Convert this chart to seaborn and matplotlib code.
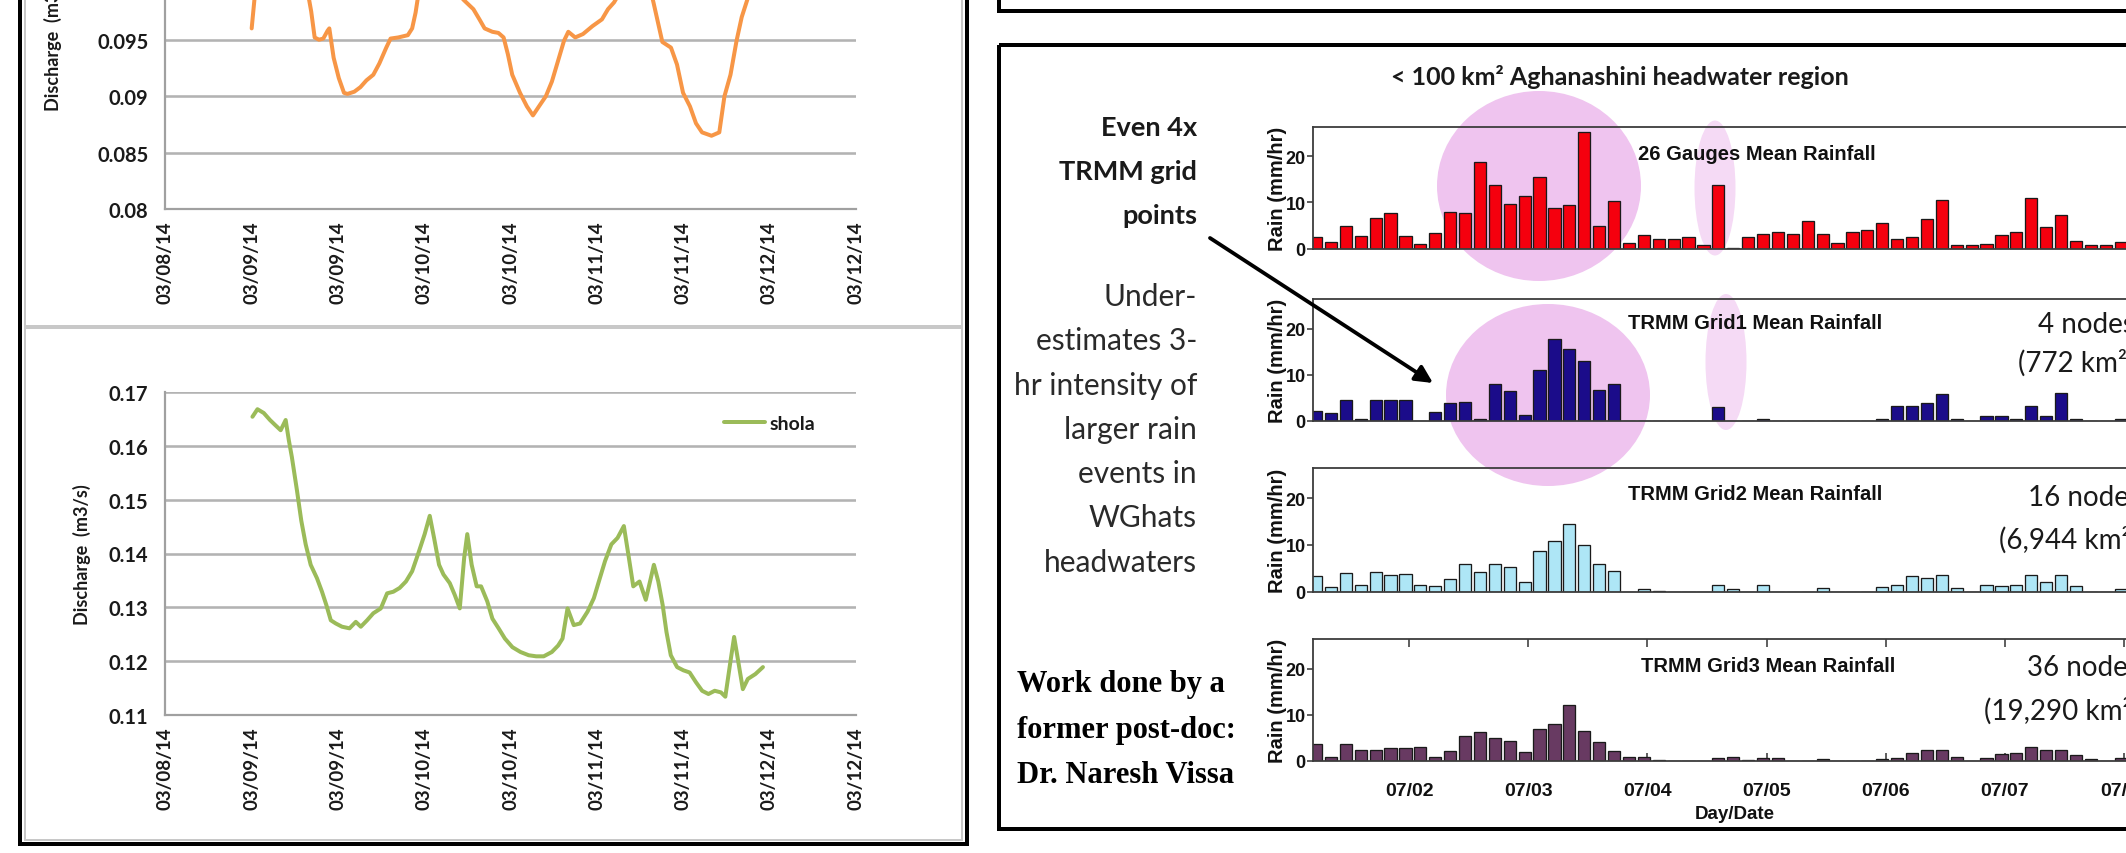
import matplotlib
matplotlib.use("Agg")
import matplotlib.pyplot as plt
import seaborn as sns
from matplotlib.patches import Ellipse, Rectangle, FancyArrowPatch

# ---------------------------------------------------------------- data
# Excel-style discharge charts (x = axis tick index, 0..8)
date_ticks = ["03/08/14", "03/09/14", "03/09/14", "03/10/14", "03/10/14",
              "03/11/14", "03/11/14", "03/12/14", "03/12/14"]

orange_x = [1.00, 1.04, 1.10, 1.25, 1.40, 1.55, 1.65, 1.69, 1.73, 1.78, 1.83, 1.88,
            1.90, 1.95, 2.01, 2.07, 2.11, 2.19, 2.26, 2.33, 2.41, 2.48, 2.56, 2.61,
            2.70, 2.81, 2.86, 2.90, 2.93, 3.00, 3.12, 3.28, 3.38, 3.41, 3.46, 3.57,
            3.64, 3.70, 3.79, 3.86, 3.92, 3.97, 4.02, 4.11, 4.19, 4.26, 4.33, 4.41,
            4.48, 4.55, 4.62, 4.67, 4.75, 4.84, 4.95, 5.06, 5.13, 5.20, 5.27, 5.40,
            5.55, 5.63, 5.66, 5.71, 5.76, 5.86, 5.93, 6.00, 6.08, 6.15, 6.22, 6.33,
            6.42, 6.48, 6.55, 6.62, 6.68, 6.76, 6.85, 6.93]
orange_q = [0.0960, 0.0992, 0.1015, 0.1030, 0.1025, 0.1010, 0.0992, 0.0975, 0.0952,
            0.0950, 0.0951, 0.0958, 0.0960, 0.0934, 0.0916, 0.0903, 0.0902, 0.0904,
            0.0908, 0.0914, 0.0919, 0.0929, 0.0943, 0.0951, 0.0952, 0.0954, 0.0960,
            0.0974, 0.0989, 0.1010, 0.1022, 0.1012, 0.0995, 0.0989, 0.0985, 0.0977,
            0.0968, 0.0960, 0.0957, 0.0956, 0.0952, 0.0937, 0.0919, 0.0903, 0.0891,
            0.0883, 0.0891, 0.0900, 0.0913, 0.0931, 0.0949, 0.0957, 0.0952, 0.0955,
            0.0962, 0.0968, 0.0977, 0.0983, 0.0992, 0.1012, 0.1003, 0.0992, 0.0982,
            0.0965, 0.0948, 0.0943, 0.0928, 0.0903, 0.0891, 0.0876, 0.0868, 0.0865,
            0.0868, 0.0900, 0.0919, 0.0949, 0.0970, 0.0989, 0.1005, 0.1010]

shola_x = [1.009, 1.067, 1.140, 1.212, 1.270, 1.336, 1.394, 1.430, 1.466, 1.525,
           1.575, 1.626, 1.684, 1.757, 1.815, 1.866, 1.917, 1.975, 2.047, 2.134,
           2.207, 2.265, 2.338, 2.410, 2.497, 2.570, 2.642, 2.715, 2.788, 2.860,
           2.933, 3.005, 3.064, 3.114, 3.172, 3.223, 3.296, 3.354, 3.412, 3.463,
           3.499, 3.550, 3.608, 3.659, 3.731, 3.790, 3.862, 3.935, 4.022, 4.116,
           4.211, 4.298, 4.385, 4.479, 4.552, 4.603, 4.661, 4.733, 4.806, 4.893,
           4.966, 5.024, 5.096, 5.169, 5.241, 5.314, 5.372, 5.423, 5.495, 5.568,
           5.626, 5.662, 5.713, 5.764, 5.808, 5.858, 5.931, 6.004, 6.076, 6.149,
           6.221, 6.294, 6.367, 6.439, 6.490, 6.548, 6.592, 6.635, 6.693, 6.751,
           6.838, 6.926]
shola_q = [0.1654, 0.1668, 0.1661, 0.1648, 0.1639, 0.1629, 0.1648, 0.1611, 0.1579,
           0.1517, 0.1461, 0.1417, 0.1379, 0.1354, 0.1329, 0.1304, 0.1276, 0.1270,
           0.1264, 0.1261, 0.1273, 0.1264, 0.1276, 0.1289, 0.1298, 0.1326, 0.1329,
           0.1336, 0.1348, 0.1367, 0.1401, 0.1436, 0.1470, 0.1429, 0.1379, 0.1361,
           0.1345, 0.1323, 0.1298, 0.1392, 0.1436, 0.1379, 0.1339, 0.1339, 0.1311,
           0.1279, 0.1261, 0.1242, 0.1226, 0.1217, 0.1211, 0.1209, 0.1209, 0.1217,
           0.1229, 0.1242, 0.1298, 0.1267, 0.1270, 0.1292, 0.1317, 0.1348, 0.1386,
           0.1417, 0.1429, 0.1451, 0.1392, 0.1339, 0.1348, 0.1314, 0.1354, 0.1379,
           0.1348, 0.1304, 0.1254, 0.1211, 0.1189, 0.1183, 0.1179, 0.1161, 0.1145,
           0.1139, 0.1145, 0.1142, 0.1134, 0.1198, 0.1245, 0.1204, 0.1148, 0.1167,
           0.1176, 0.1189]

# 3-hourly rainfall (mm/hr), first bar centred at day 1.22 of July
n_bars = 55
bar_day = [1.22 + 0.125 * i for i in range(n_bars)]
gauges = [2.4, 1.4, 4.8, 2.7, 6.6, 7.7, 2.7, 0.9, 3.4, 7.9, 7.7, 18.7, 13.9, 9.7,
          11.5, 15.6, 8.7, 9.5, 25.3, 4.9, 10.3, 1.3, 3.0, 2.1, 2.1, 2.4, 0.8, 13.9,
          0.1, 2.6, 3.1, 3.6, 3.1, 5.9, 3.1, 1.2, 3.6, 4.1, 5.5, 2.0, 2.4, 6.3, 10.5,
          0.7, 0.7, 1.0, 2.9, 3.6, 11.0, 4.7, 7.3, 1.7, 0.7, 0.7, 1.5]
grid1 = [2.1, 1.6, 4.6, 0.35, 4.6, 4.6, 4.6, 0.0, 1.9, 3.8, 4.0, 0.3, 8.0, 6.5,
         1.2, 11.0, 17.7, 15.6, 12.9, 6.7, 8.0, 0.0, 0.0, 0.0, 0.0, 0.0, 0.0, 3.0,
         0.0, 0.0, 0.35, 0.0, 0.0, 0.0, 0.0, 0.0, 0.0, 0.0, 0.3, 3.3, 3.3, 3.8, 5.7,
         0.3, 0.0, 1.1, 1.1, 0.3, 3.3, 1.1, 6.0, 0.3, 0.0, 0.0, 0.3]
grid2 = [3.4, 1.0, 3.9, 1.4, 4.2, 3.5, 3.7, 1.4, 1.1, 2.7, 5.8, 4.2, 6.0, 5.3,
         2.1, 8.7, 10.8, 14.5, 10.0, 5.8, 4.5, 0.0, 0.6, 0.2, 0.0, 0.0, 0.0, 1.4,
         0.6, 0.0, 1.4, 0.0, 0.0, 0.0, 0.7, 0.0, 0.0, 0.0, 0.9, 1.5, 3.3, 2.8, 3.6,
         0.7, 0.0, 1.4, 1.2, 1.4, 3.6, 2.0, 3.5, 1.2, 0.0, 0.0, 0.6]
grid3 = [3.6, 0.8, 3.7, 2.3, 2.3, 2.8, 2.8, 3.0, 0.8, 2.2, 5.5, 6.2, 4.9, 4.3,
         2.0, 7.0, 8.1, 12.2, 6.6, 4.1, 2.2, 0.8, 0.8, 0.3, 0.1, 0.0, 0.0, 0.6,
         0.8, 0.15, 0.6, 0.6, 0.1, 0.1, 0.35, 0.1, 0.1, 0.1, 0.35, 0.7, 1.8, 2.3,
         2.3, 0.9, 0.1, 0.6, 1.5, 1.8, 3.0, 2.3, 2.3, 1.4, 0.35, 0.1, 0.7]
day_ticks = [2, 3, 4, 5, 6, 7, 8]
day_labels = ["07/02", "07/03", "07/04", "07/05", "07/06", "07/07", "07/08"]

panel_titles = ["26 Gauges Mean Rainfall", "TRMM Grid1 Mean Rainfall",
                "TRMM Grid2 Mean Rainfall", "TRMM Grid3 Mean Rainfall"]
panel_nodes = [None, ("4 nodes", "(772 km\u00b2)"), ("16 nodes", "(6,944 km\u00b2)"),
               ("36 nodes", "(19,290 km\u00b2)")]

title_text = "< 100 km\u00b2 Aghanashini headwater region"
claim_lines = ["Even 4x", "TRMM grid", "points"]
detail_lines = ["Under-", "estimates 3-", "hr intensity of", "larger rain",
                "events in", "WGhats", "headwaters"]
credit_lines = ["Work done by a", "former post-doc:", "Dr. Naresh Vissa"]

# ---------------------------------------------------------------- setup
W, H, DPI = 2126, 854, 100
sns.set_theme(style="white")
plt.rcParams['font.family'] = ['Lato', 'DejaVu Sans']
ARIAL = ['Liberation Sans', 'DejaVu Sans']
SERIF = ['Liberation Serif', 'DejaVu Serif']

fig = plt.figure(figsize=(W / DPI, H / DPI), dpi=DPI, facecolor='white')
PT = 72 / DPI  # points per pixel


def rect(l, t, r, b):
    return [l / W, 1 - b / H, (r - l) / W, (b - t) / H]


# background layer: boxes and highlight ellipses (pixel coordinates)
bg = fig.add_axes([0, 0, 1, 1], zorder=0)
bg.set_xlim(0, W)
bg.set_ylim(H, 0)
bg.axis('off')

# slide boxes
bg.add_patch(Rectangle((20, -50), 947, 895, fill=False, ec='black', lw=4 * PT))
bg.add_patch(Rectangle((25, -50), 937, 377, fill=False, ec='#c8c8c8', lw=2 * PT))
bg.add_patch(Rectangle((25, 329), 937, 512, fill=False, ec='#c8c8c8', lw=2 * PT))
bg.add_patch(Rectangle((999, 46), 1300, 784, fill=False, ec='black', lw=4 * PT))
bg.add_patch(Rectangle((999, -100), 1300, 112, fill=False, ec='black', lw=4 * PT))

# pink highlights behind the rain panels
for (cx, cy, w, h, c) in [(1539, 187, 204, 190, '#efc4ef'),
                          (1548, 396, 204, 182, '#efc4ef'),
                          (1715, 189, 41, 135, '#f5daf5'),
                          (1726, 363, 41, 136, '#f5daf5')]:
    bg.add_patch(Ellipse((cx, cy), w, h, fc=c, ec='none'))

# ---------------------------------------------------------------- discharge charts
GRID = '#b3b3b3'
AXC = '#a0a0a0'
TXT = '#1a1a1a'


def fmt_q(v):
    s = f"{v:.3f}".rstrip('0')
    return s.rstrip('.') if s.endswith('.') else s


def excel_axes(ax, ylo, yhi, step, label_max):
    ax.set_xlim(0, 8)
    ax.set_ylim(ylo, yhi)
    ax.set_xticks(range(9))
    ax.set_xticklabels(date_ticks, rotation=90, fontsize=13.5, fontweight='bold', color=TXT)
    yt = [round(ylo + k * step, 4) for k in range(int(round((yhi - ylo) / step)) + 1)]
    ax.set_yticks(yt)
    # labels of gridlines that sit above the top of the slide stay empty
    ax.set_yticklabels([fmt_q(v) if v <= label_max else '' for v in yt],
                       fontsize=14.5, fontweight='bold', color=TXT)
    ax.grid(axis='y', color=GRID, lw=2.6 * PT)
    ax.grid(axis='x', visible=False)
    for s in ['top', 'right']:
        ax.spines[s].set_visible(False)
    for s in ['left', 'bottom']:
        ax.spines[s].set_color(AXC)
        ax.spines[s].set_linewidth(2.2 * PT)
    ax.tick_params(axis='both', direction='out', length=6 * PT, width=2.2 * PT,
                   color=AXC)
    ax.tick_params(axis='y', pad=8)
    ax.tick_params(axis='x', pad=4)
    ax.set_facecolor('white')
    ax.set_xlabel('')


ax_top = fig.add_axes(rect(165.4, -128.8, 855.6, 210.2), zorder=3)
sns.lineplot(x=orange_x, y=orange_q, ax=ax_top, color='#f79646', lw=4 * PT,
             estimator=None, sort=False)
excel_axes(ax_top, 0.08, 0.11, 0.005, 0.0955)
ax_top.set_ylabel('Discharge  (m3/s)', fontsize=13, fontweight='bold', color=TXT)
ax_top.yaxis.set_label_coords(-0.150, 0.5)

ax_bot = fig.add_axes(rect(165.4, 393, 855.6, 716), zorder=3)
sns.lineplot(x=shola_x, y=shola_q, ax=ax_bot, color='#9bbb59', lw=4 * PT,
             estimator=None, sort=False, label='shola')
excel_axes(ax_bot, 0.11, 0.17, 0.01, 1.0)
ax_bot.set_ylabel('Discharge  (m3/s)', fontsize=13, fontweight='bold', color=TXT)
ax_bot.yaxis.set_label_coords(-0.108, 0.5)
leg = ax_bot.legend(loc='center left', bbox_to_anchor=(6.48 / 8, (0.1642 - 0.11) / 0.06),
                    frameon=False, borderpad=0, borderaxespad=0, handlelength=2.1,
                    handletextpad=0.2, prop={'family': 'Lato', 'weight': 'bold', 'size': 14})
for t in leg.get_texts():
    t.set_color(TXT)

# ---------------------------------------------------------------- rain panels
rows = [(127.5, 249.5), (299.7, 421.7), (469, 592.5), (640, 762)]
series = [gauges, grid1, grid2, grid3]
colors = ['#f5000e', '#1b0c8a', '#aee6f6', '#683a62']
XL = (2 - 96 / 119.2, 2 + 748 / 119.2)
SPC = '#3c3c3c'

for k, ((top, base), vals, col) in enumerate(zip(rows, series, colors)):
    ax = fig.add_axes(rect(1313, top, 2157, base), zorder=5)
    ax.set_facecolor('none')
    sns.barplot(x=bar_day, y=vals, ax=ax, native_scale=True, orient='x', color=col,
                saturation=1, errorbar=None, width=0.82, edgecolor='#1a1a1a',
                linewidth=1.3 * PT)
    ax.set_xlim(*XL)
    ax.set_ylim(0, 26.5)
    ax.set_yticks([0, 10, 20])
    ax.set_yticklabels(['0', '10', '20'], family=ARIAL, fontweight='bold',
                       fontsize=13, color='#111')
    ax.tick_params(axis='y', direction='out', length=6 * PT, width=1.6 * PT,
                   color=SPC, pad=1, left=True)
    ax.set_ylabel('Rain (mm/hr)', family=ARIAL, fontweight='bold', fontsize=14.5,
                  color='#111')
    ax.yaxis.set_label_coords(-0.031, 0.5)
    for s in ax.spines.values():
        s.set_color(SPC)
        s.set_linewidth(1.8 * PT)
    ax.spines['right'].set_visible(False)
    ax.set_xticks(day_ticks)
    if k < 3:
        ax.tick_params(axis='x', bottom=False, labelbottom=False)
        ax.set_xlabel('')
    else:
        ax.set_xticklabels(day_labels, family=ARIAL, fontweight='bold', fontsize=14,
                           color='#111')
        ax.tick_params(axis='x', direction='in', length=8 * PT, width=1.6 * PT,
                       color=SPC, top=True, bottom=True, pad=15)
        ax.set_xlabel('Day/Date', family=ARIAL, fontweight='bold', fontsize=13.5,
                      color='#111')
        ax.xaxis.set_label_coords((1735 - 1313) / 844, -0.36)
    ax.grid(False)

# ---------------------------------------------------------------- foreground text
fg = fig.add_axes([0, 0, 1, 1], zorder=10)
fg.set_xlim(0, W)
fg.set_ylim(H, 0)
fg.axis('off')
fg.patch.set_alpha(0)

fg.text(1620, 77, title_text, ha='center', va='center', fontsize=18,
        fontweight='bold', color='#1a1a1a')

for i, line in enumerate(claim_lines):
    fg.text(1197, 127.5 + 44.5 * i, line, ha='right', va='center', fontsize=19.5,
            fontweight='bold', color='#1a1a1a')
for i, line in enumerate(detail_lines):
    fg.text(1197, 297 + 44.3 * i, line, ha='right', va='center', fontsize=21.5,
            color='#2a2a2a')
for i, line in enumerate(credit_lines):
    fg.text(1017, 685 + 45.5 * i, line, ha='left', va='center', fontsize=22,
            fontweight='bold', family=SERIF, color='black')

title_x = [1638, 1628, 1628, 1641]
title_y = [154, 324, 495, 667]
for k in range(4):
    fg.text(title_x[k], title_y[k], panel_titles[k], ha='left', va='center',
            family=ARIAL, fontweight='bold', fontsize=14.5, color='#111')

node_pos = [None, ((2038, 325), (2018, 363)), ((2028, 498), (1999, 540)),
            ((2027, 668), (1984, 711))]
for k in range(1, 4):
    (x1, y1), (x2, y2) = node_pos[k]
    fg.text(x1, y1, panel_nodes[k][0], ha='left', va='center', fontsize=20, color='#1a1a1a')
    fg.text(x2, y2, panel_nodes[k][1], ha='left', va='center', fontsize=20, color='#1a1a1a')

fg.add_patch(FancyArrowPatch((1210, 239), (1433, 384), arrowstyle='-|>',
                             mutation_scale=26, lw=3.8 * PT, color='black',
                             shrinkA=0, shrinkB=0))

fig.savefig('out.png', dpi=DPI, facecolor='white')
